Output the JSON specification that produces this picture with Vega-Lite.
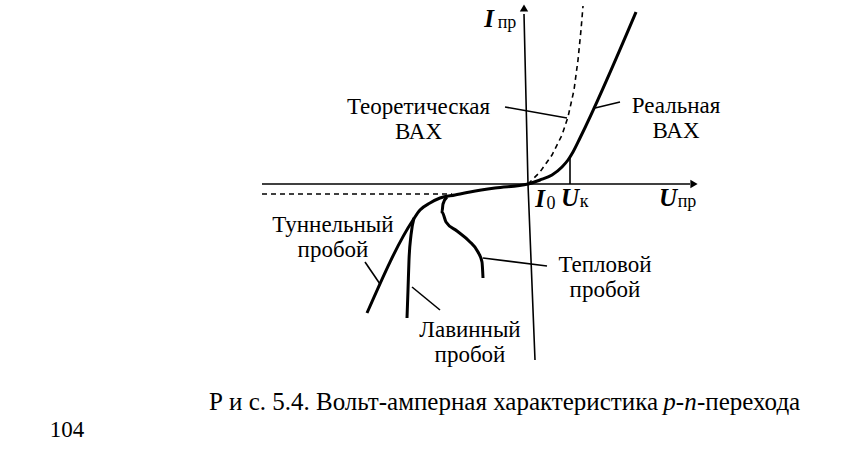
{
  "$schema": "https://vega.github.io/schema/vega-lite/v6.json",
  "width": 856,
  "height": 452,
  "padding": 0,
  "autosize": {"type": "fit", "contains": "padding"},
  "background": "white",
  "config": {"view": {"stroke": null}},
  "datasets": {
    "lines": [
      {"g": "vaxis", "k": "thin", "o": 1, "x": 0.7, "y": -17.6},
      {"g": "vaxis", "k": "thin", "o": 2, "x": 0, "y": 0},
      {"g": "vaxis", "k": "thin", "o": 3, "x": -0.4, "y": 17.0},
      {"g": "haxis", "k": "thin", "o": 1, "x": -26.6, "y": 0},
      {"g": "haxis", "k": "thin", "o": 2, "x": 16.2, "y": 0},
      {"g": "uk", "k": "thin", "o": 1, "x": 4.2, "y": 0},
      {"g": "uk", "k": "thin", "o": 2, "x": 4.2, "y": 2.7},
      {"g": "p_teor", "k": "thin", "o": 1, "x": -2.3, "y": 7.7},
      {"g": "p_teor", "k": "thin", "o": 2, "x": 3.9, "y": 6.6},
      {"g": "p_real", "k": "thin", "o": 1, "x": 6.7, "y": 7.6},
      {"g": "p_real", "k": "thin", "o": 2, "x": 9.2, "y": 8.2},
      {"g": "p_tun", "k": "thin", "o": 1, "x": -16.3, "y": -7.8},
      {"g": "p_tun", "k": "thin", "o": 2, "x": -14.8, "y": -10.0},
      {"g": "p_lav", "k": "thin", "o": 1, "x": -11.6, "y": -10.3},
      {"g": "p_lav", "k": "thin", "o": 2, "x": -8.8, "y": -12.6},
      {"g": "p_tep", "k": "thin", "o": 1, "x": -4.5, "y": -7.4},
      {"g": "p_tep", "k": "thin", "o": 2, "x": 1.9, "y": -8.2},
      {"g": "teor_left", "k": "dash", "o": 1, "x": -26.6, "y": -1.0},
      {"g": "teor_left", "k": "dash", "o": 2, "x": -7.6, "y": -1.0},
      {"g": "teor_right", "k": "dash", "o": 1, "x": 0, "y": 0},
      {"g": "teor_right", "k": "dash", "o": 2, "x": 1.2, "y": 1.2},
      {"g": "teor_right", "k": "dash", "o": 3, "x": 2.4, "y": 2.9},
      {"g": "teor_right", "k": "dash", "o": 4, "x": 3.4, "y": 4.9},
      {"g": "teor_right", "k": "dash", "o": 5, "x": 4.0, "y": 6.7},
      {"g": "teor_right", "k": "dash", "o": 6, "x": 4.6, "y": 9.4},
      {"g": "teor_right", "k": "dash", "o": 7, "x": 5.0, "y": 12.4},
      {"g": "teor_right", "k": "dash", "o": 8, "x": 5.3, "y": 15.4},
      {"g": "teor_right", "k": "dash", "o": 9, "x": 5.5, "y": 17.8},
      {"g": "real", "k": "thick", "o": 1, "x": -16.1, "y": -12.9},
      {"g": "real", "k": "thick", "o": 2, "x": -11.5, "y": -3.6},
      {"g": "real", "k": "thick", "o": 3, "x": -10.8, "y": -2.6},
      {"g": "real", "k": "thick", "o": 4, "x": -9.8, "y": -1.9},
      {"g": "real", "k": "thick", "o": 5, "x": -8.8, "y": -1.4},
      {"g": "real", "k": "thick", "o": 6, "x": -7.3, "y": -1.1},
      {"g": "real", "k": "thick", "o": 7, "x": -5.8, "y": -0.8},
      {"g": "real", "k": "thick", "o": 8, "x": -3.3, "y": -0.4},
      {"g": "real", "k": "thick", "o": 9, "x": 0, "y": 0},
      {"g": "real", "k": "thick", "o": 10, "x": 1.2, "y": 0.4},
      {"g": "real", "k": "thick", "o": 11, "x": 2.4, "y": 0.9},
      {"g": "real", "k": "thick", "o": 12, "x": 3.4, "y": 1.7},
      {"g": "real", "k": "thick", "o": 13, "x": 4.0, "y": 2.4},
      {"g": "real", "k": "thick", "o": 14, "x": 4.5, "y": 3.2},
      {"g": "real", "k": "thick", "o": 15, "x": 5.2, "y": 4.6},
      {"g": "real", "k": "thick", "o": 16, "x": 10.8, "y": 17.2},
      {"g": "lav", "k": "thick", "o": 1, "x": -11.4, "y": -3.4},
      {"g": "lav", "k": "thick", "o": 2, "x": -11.7, "y": -5.1},
      {"g": "lav", "k": "thick", "o": 3, "x": -11.9, "y": -7.6},
      {"g": "lav", "k": "thick", "o": 4, "x": -12.0, "y": -10.6},
      {"g": "lav", "k": "thick", "o": 5, "x": -12.1, "y": -13.4},
      {"g": "tep", "k": "thick", "o": 1, "x": -8.1, "y": -1.3},
      {"g": "tep", "k": "thick", "o": 2, "x": -8.5, "y": -2.0},
      {"g": "tep", "k": "thick", "o": 3, "x": -8.6, "y": -2.8},
      {"g": "tep", "k": "thick", "o": 4, "x": -8.2, "y": -3.8},
      {"g": "tep", "k": "thick", "o": 5, "x": -7.1, "y": -4.7},
      {"g": "tep", "k": "thick", "o": 6, "x": -5.9, "y": -5.7},
      {"g": "tep", "k": "thick", "o": 7, "x": -5.0, "y": -6.8},
      {"g": "tep", "k": "thick", "o": 8, "x": -4.6, "y": -7.8},
      {"g": "tep", "k": "thick", "o": 9, "x": -4.5, "y": -9.4}
    ],
    "arrows": [
      {"x": -0.4, "y": 17.6, "shape": "triangle-up"},
      {"x": 16.6, "y": 0, "shape": "triangle-right"}
    ],
    "labels": [
      {"t": "Теоретическая\nВАХ", "x": -10.95, "y": 7.0},
      {"t": "Реальная\nВАХ", "x": 14.8, "y": 7.1},
      {"t": "Туннельный\nпробой", "x": -19.5, "y": -4.8},
      {"t": "Лавинный\nпробой", "x": -5.8, "y": -15.3},
      {"t": "Тепловой\nпробой", "x": 7.7, "y": -8.8}
    ],
    "syms": [
      {"t": "I", "x": -3.9, "y": 15.7},
      {"t": "I", "x": 1.2, "y": -2.3},
      {"t": "U", "x": 4.2, "y": -2.2},
      {"t": "U", "x": 14.0, "y": -2.2}
    ],
    "subs": [
      {"t": "пр", "x": -2.1, "y": 15.6},
      {"t": "0", "x": 2.3, "y": -2.5},
      {"t": "к", "x": 5.6, "y": -2.3},
      {"t": "пр", "x": 15.9, "y": -2.3}
    ],
    "capL": [{"t": "Р и с. 5.4. Вольт-амперная характеристика", "x": 13.0, "y": -22.6}],
    "capI": [{"t": "p-n", "x": 15.2, "y": -22.6}],
    "capR": [{"t": "-перехода", "x": 16.9, "y": -22.6}],
    "page": [{"t": "104", "x": -46.1, "y": -25.3}]
  },
  "encoding": {
    "x": {"field": "x", "type": "quantitative", "scale": {"domain": [-52.8, 32.8], "nice": false, "zero": false}, "axis": null},
    "y": {"field": "y", "type": "quantitative", "scale": {"domain": [-26.8, 18.4], "nice": false, "zero": false}, "axis": null}
  },
  "layer": [
    {
      "data": {"name": "lines"},
      "transform": [{"filter": "datum.k === 'thin'"}],
      "mark": {"type": "line", "color": "black", "strokeWidth": 1.6},
      "encoding": {"detail": {"field": "g"}, "order": {"field": "o", "type": "quantitative"}}
    },
    {
      "data": {"name": "lines"},
      "transform": [{"filter": "datum.k === 'dash'"}],
      "mark": {"type": "line", "color": "black", "strokeWidth": 1.6, "strokeDash": [5, 4]},
      "encoding": {"detail": {"field": "g"}, "order": {"field": "o", "type": "quantitative"}}
    },
    {
      "data": {"name": "lines"},
      "transform": [{"filter": "datum.k === 'thick'"}],
      "mark": {"type": "line", "color": "black", "strokeWidth": 3, "strokeJoin": "round", "interpolate": "monotone"},
      "encoding": {"detail": {"field": "g"}, "order": {"field": "o", "type": "quantitative"}}
    },
    {
      "data": {"name": "arrows"},
      "mark": {"type": "point", "filled": true, "color": "black", "opacity": 1, "size": 70},
      "encoding": {"shape": {"field": "shape", "type": "nominal", "scale": null}}
    },
    {
      "data": {"name": "labels"},
      "mark": {"type": "text", "font": "'Liberation Serif', 'Times New Roman', serif", "fontSize": 23, "lineBreak": "\n", "lineHeight": 25, "align": "center", "baseline": "alphabetic", "color": "black"},
      "encoding": {"text": {"field": "t"}}
    },
    {
      "data": {"name": "syms"},
      "mark": {"type": "text", "font": "'Liberation Serif', 'Times New Roman', serif", "fontSize": 25, "fontStyle": "italic", "fontWeight": "bold", "align": "center", "baseline": "alphabetic", "color": "black"},
      "encoding": {"text": {"field": "t"}}
    },
    {
      "data": {"name": "subs"},
      "mark": {"type": "text", "font": "'Liberation Serif', 'Times New Roman', serif", "fontSize": 18, "align": "center", "baseline": "alphabetic", "color": "black"},
      "encoding": {"text": {"field": "t"}}
    },
    {
      "data": {"name": "capL"},
      "mark": {"type": "text", "font": "'Liberation Serif', 'Times New Roman', serif", "fontSize": 25, "align": "right", "baseline": "alphabetic", "color": "black"},
      "encoding": {"text": {"field": "t"}}
    },
    {
      "data": {"name": "capI"},
      "mark": {"type": "text", "font": "'Liberation Serif', 'Times New Roman', serif", "fontSize": 25, "fontStyle": "italic", "align": "center", "baseline": "alphabetic", "color": "black"},
      "encoding": {"text": {"field": "t"}}
    },
    {
      "data": {"name": "capR"},
      "mark": {"type": "text", "font": "'Liberation Serif', 'Times New Roman', serif", "fontSize": 25, "align": "left", "baseline": "alphabetic", "color": "black"},
      "encoding": {"text": {"field": "t"}}
    },
    {
      "data": {"name": "page"},
      "mark": {"type": "text", "font": "'Liberation Serif', 'Times New Roman', serif", "fontSize": 23, "align": "center", "baseline": "alphabetic", "color": "black"},
      "encoding": {"text": {"field": "t"}}
    }
  ]
}
